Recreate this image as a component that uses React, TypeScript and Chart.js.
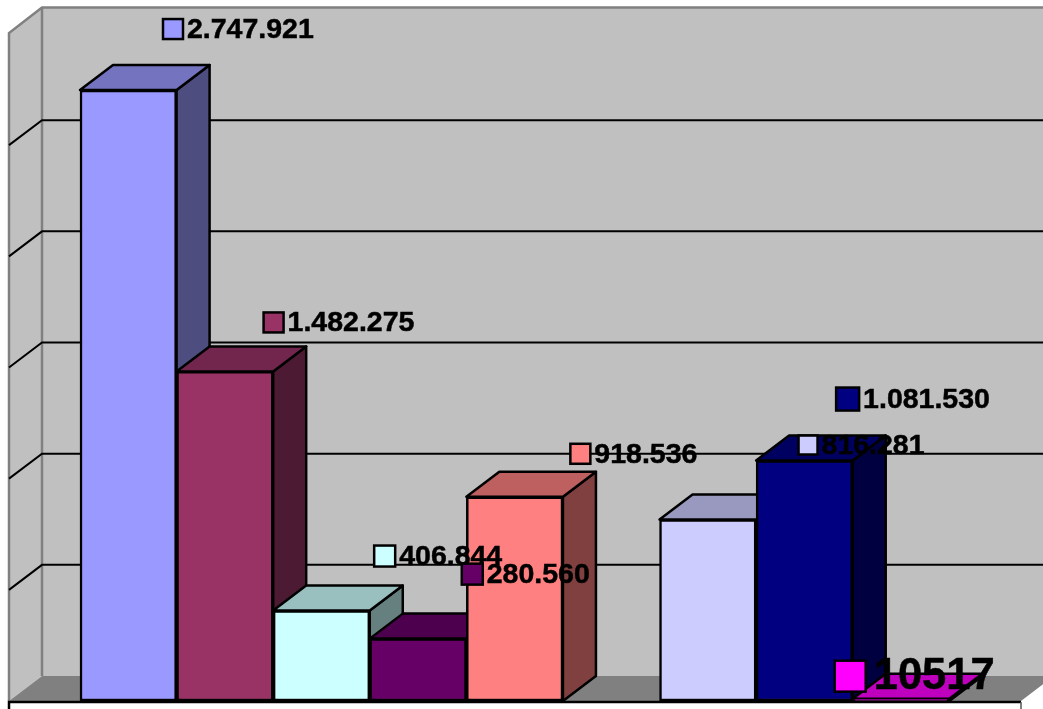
import React, { useEffect, useRef } from "react";
import { Chart, registerables, BarController, BarElement } from "chart.js";

Chart.register(...registerables);

const categories = ["A", "B", "C", "D", "E", "", "F", "G", "H"];
const values = [2747921, 1482275, 406844, 280560, 918536, null, 816281, 1081530, 10517];
const valueLabels = ["2.747.921", "1.482.275", "406.844", "280.560", "918.536", "", "816.281", "1.081.530", "10517"];
const frontColors = ["#9999FF", "#993366", "#CCFFFF", "#660066", "#FF8080", "#000000", "#CCCCFF", "#000080", "#FF00FF"];
const topColors = ["#7373BF", "#73264D", "#99BFBF", "#4D004D", "#BF6060", "#000000", "#9999BF", "#000060", "#BF00BF"];
const sideColors = ["#4D4D80", "#4D1A33", "#668080", "#330033", "#804040", "#000000", "#666680", "#000040", "#800080"];

// label layout: marker offset from the bar's top-left corner, marker size, text size
const labelOffsetX = [83, 87, 101, 92, 104, 0, 139, 80, -18];
const labelOffsetY = [-72, -60, -66, -76, -54, 0, -85, -74, -38];
const labelMarker = [20, 20, 21, 21, 20, 0, 19, 23, 31];
const labelFont = [28.5, 28.5, 28.5, 28.5, 28.5, 0, 28.5, 28.5, 43.5];

const DX = 33;
const DY = 25;
const WALL_LEFT = 9;
const WALL_RIGHT_FRONT = 1021;
const W = 1043;
const H = 709;

class Bar3DElement extends BarElement {
  static id = "bar3dEl";
  static defaults = BarElement.defaults;
  draw(ctx: CanvasRenderingContext2D) {
    const p: any = (this as any).getProps(["x", "y", "base", "width"], true);
    const i: number = (this as any).$index3d ?? 0;
    const left = p.x - p.width / 2;
    const right = p.x + p.width / 2;
    ctx.save();
    ctx.lineWidth = 2.5;
    ctx.strokeStyle = "#000";
    ctx.lineJoin = "round";
    ctx.fillStyle = sideColors[i];
    ctx.beginPath();
    ctx.moveTo(right, p.y);
    ctx.lineTo(right + DX, p.y - DY);
    ctx.lineTo(right + DX, p.base - DY);
    ctx.lineTo(right, p.base);
    ctx.closePath();
    ctx.fill();
    ctx.stroke();
    ctx.fillStyle = topColors[i];
    ctx.beginPath();
    ctx.moveTo(left, p.y);
    ctx.lineTo(left + DX, p.y - DY);
    ctx.lineTo(right + DX, p.y - DY);
    ctx.lineTo(right, p.y);
    ctx.closePath();
    ctx.fill();
    ctx.stroke();
    ctx.restore();
    super.draw(ctx);
  }
}

class Bar3DController extends BarController {
  static id = "bar3d";
  static defaults = { ...BarController.defaults, dataElementType: "bar3dEl" };
  static overrides = BarController.overrides;
  draw() {
    (this as any)._cachedMeta.data.forEach((el: any, i: number) => {
      el.$index3d = i;
    });
    super.draw();
  }
}

Chart.register(Bar3DElement as any, Bar3DController as any);

const wallsPlugin = {
  id: "walls",
  beforeDatasetsDraw(chart: any) {
    const { ctx, scales } = chart;
    const y = scales.y;
    const base = y.getPixelForValue(0);
    const top = y.getPixelForValue(y.max) - 1.5;
    ctx.save();
    // back wall
    ctx.fillStyle = "#C0C0C0";
    ctx.fillRect(WALL_LEFT + DX, top - DY, W - WALL_LEFT - DX, base - top);
    // left wall
    ctx.beginPath();
    ctx.moveTo(WALL_LEFT, top + 0.5);
    ctx.lineTo(WALL_LEFT + DX, top - DY);
    ctx.lineTo(WALL_LEFT + DX, base - DY);
    ctx.lineTo(WALL_LEFT, base);
    ctx.closePath();
    ctx.fill();
    // floor
    ctx.fillStyle = "#808080";
    ctx.beginPath();
    ctx.moveTo(WALL_LEFT, base);
    ctx.lineTo(WALL_LEFT + DX, base - DY);
    ctx.lineTo(W, base - DY);
    ctx.lineTo(W, base - (W - WALL_RIGHT_FRONT) * (DY / DX));
    ctx.lineTo(WALL_RIGHT_FRONT, base);
    ctx.closePath();
    ctx.fill();
    // wall borders
    ctx.strokeStyle = "#808080";
    ctx.lineWidth = 2.5;
    ctx.beginPath();
    ctx.moveTo(WALL_LEFT, base);
    ctx.lineTo(WALL_LEFT, top + 0.5);
    ctx.lineTo(WALL_LEFT + DX, top - DY);
    ctx.lineTo(W, top - DY);
    ctx.moveTo(WALL_LEFT + DX, top - DY);
    ctx.lineTo(WALL_LEFT + DX, base - DY);
    ctx.stroke();
    // gridlines from the value scale
    ctx.strokeStyle = "#000";
    ctx.lineWidth = 2;
    y.ticks.forEach((t: any) => {
      if (t.value === 0 || t.value === y.max) return;
      const py = y.getPixelForValue(t.value);
      ctx.beginPath();
      ctx.moveTo(WALL_LEFT, py);
      ctx.lineTo(WALL_LEFT + DX, py - DY);
      ctx.lineTo(W, py - DY);
      ctx.stroke();
    });
    ctx.restore();
  },
  afterDatasetsDraw(chart: any) {
    const { ctx, scales } = chart;
    const base = scales.y.getPixelForValue(0);
    const els = chart.getDatasetMeta(0).data;
    ctx.save();
    // front floor edge
    ctx.strokeStyle = "#000";
    ctx.lineWidth = 2.5;
    ctx.beginPath();
    ctx.moveTo(WALL_LEFT, H);
    ctx.lineTo(WALL_LEFT, base + 1);
    ctx.lineTo(WALL_RIGHT_FRONT, base + 1);
    ctx.stroke();
    ctx.strokeStyle = "#555";
    ctx.lineWidth = 1.5;
    ctx.beginPath();
    ctx.moveTo(WALL_RIGHT_FRONT, H);
    ctx.lineTo(WALL_RIGHT_FRONT, base + 1);
    ctx.stroke();
    // value labels with legend keys
    valueLabels.forEach((txt, i) => {
      if (!txt) return;
      const el = els[i];
      const big = labelFont[i] > 30;
      const mx = el.x - el.width / 2 + labelOffsetX[i];
      const my = el.y + labelOffsetY[i] + (big ? 0 : 1);
      const s = labelMarker[i];
      ctx.fillStyle = frontColors[i];
      ctx.strokeStyle = "#000";
      ctx.lineWidth = 2.5;
      ctx.fillRect(mx, my, s, s);
      ctx.strokeRect(mx, my, s, s);
      ctx.fillStyle = "#000";
      ctx.font = `bold ${labelFont[i]}px "Liberation Sans", Arial, sans-serif`;
      ctx.textBaseline = "middle";
      ctx.textAlign = "left";
      const tx = mx + s + (big ? 8 : 4);
      const ty = my + s / 2 + 1;
      ctx.fillText(txt, tx, ty);
      ctx.lineWidth = 0.5;
      ctx.strokeText(txt, tx, ty);
    });
    ctx.restore();
  },
};

export default function App() {
  const ref = useRef<HTMLCanvasElement>(null);
  useEffect(() => {
    const chart = new Chart(ref.current!, {
      type: "bar3d" as any,
      data: {
        labels: categories,
        datasets: [
          {
            data: values as any,
            backgroundColor: frontColors,
            borderColor: "#000",
            borderWidth: 2.5,
            borderSkipped: false,
            barPercentage: 1,
            categoryPercentage: 1,
            clip: false as any,
          },
        ],
      },
      options: {
        animation: false,
        responsive: false,
        layout: { padding: { left: 80, right: 93.7, top: 34, bottom: 8 } },
        plugins: { legend: { display: false }, tooltip: { enabled: false }, title: { display: false } },
        scales: {
          x: { display: false, offset: true },
          y: {
            display: false,
            min: 0,
            max: 3000000,
            ticks: { stepSize: 500000 },
          },
        },
      },
      plugins: [wallsPlugin],
    });
    return () => chart.destroy();
  }, []);
  return (
    <div style={{ position: "absolute", left: 0, top: 0, width: W, height: H, background: "#fff" }}>
      <canvas ref={ref} width={W} height={H} style={{ display: "block" }} />
    </div>
  );
}
